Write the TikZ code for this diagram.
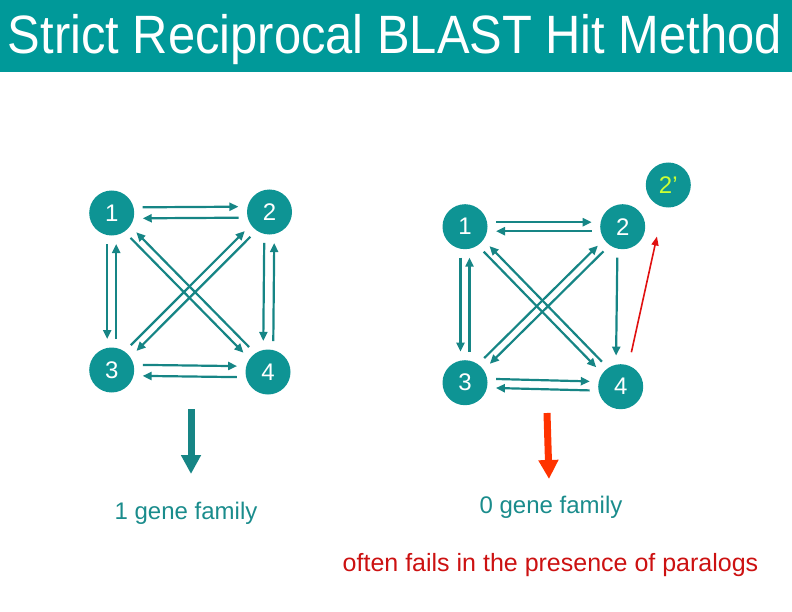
\documentclass[tikz,border=0pt]{standalone}
\usepackage{fontspec}
\setmainfont{Liberation Sans}
\usetikzlibrary{calc,arrows.meta}
\definecolor{tealbar}{HTML}{009999}
\definecolor{circteal}{HTML}{0E9494}
\definecolor{arrteal}{HTML}{168585}
\definecolor{txtteal}{HTML}{1A8C8C}
\definecolor{limetxt}{HTML}{CCFF33}
\definecolor{darkredtxt}{HTML}{CC1111}
\definecolor{orangered}{HTML}{FF3300}
\definecolor{redline}{HTML}{E01010}
\newcommand\conn[3]{\draw[arr] ($(#1)!#3!90:(#2)$) -- ($(#2)!#3!-90:(#1)$);}
\tikzset{
  gnode/.style={circle, fill=circteal, text=white, minimum size=45bp, inner sep=0pt,
    font=\fontsize{24bp}{28bp}\selectfont},
  arr/.style={draw=arrteal, line width=2.2bp, shorten <=31bp, shorten >=31bp,
    -{Triangle[length=9bp,width=8bp]}},
  bigarr/.style={line width=7bp, -{Triangle[length=19bp,width=19bp]}},
  lbl/.style={anchor=base, font=\fontsize{24bp}{28bp}\selectfont}
}
\begin{document}
\begin{tikzpicture}[x=1bp,y=-1bp]
\useasboundingbox (0,0) rectangle (792,612);
\fill[tealbar] (0,0) rectangle (792,72);
\node[anchor=base, text=white, inner sep=0pt] (title) at (395,54)
  {\scalebox{0.905}[1]{\fontsize{54bp}{60bp}\selectfont Strict Reciprocal BLAST Hit Method}};

% left graph
\node[gnode] (l1) at (111.7,213) {1};
\node[gnode] (l2) at (269.5,212) {2};
\node[gnode] (l3) at (111.7,370) {3};
\node[gnode] (l4) at (268,372) {4};
\conn{l1}{l2}{5.5bp}
\conn{l2}{l1}{5.5bp}
\conn{l3}{l4}{5.5bp}
\conn{l4}{l3}{5.5bp}
\conn{l1}{l3}{-4.5bp}
\conn{l3}{l1}{-4.5bp}
\conn{l2}{l4}{-5bp}
\conn{l4}{l2}{-5bp}
\conn{l1}{l4}{-4bp}
\conn{l4}{l1}{-4bp}
\conn{l2}{l3}{4bp}
\conn{l3}{l2}{4bp}

% right graph
\node[gnode] (r1) at (465,226.7) {1};
\node[gnode] (r2) at (622.7,226.7) {2};
\node[gnode] (r3) at (465,382.7) {3};
\node[gnode] (r4) at (620.7,386.7) {4};
\node[gnode, text=limetxt] (r2p) at (668.3,185) {2’};
\conn{r1}{r2}{4.5bp}
\conn{r2}{r1}{4.5bp}
\conn{r3}{r4}{4.5bp}
\conn{r4}{r3}{4.5bp}
\conn{r1}{r3}{-4.5bp}
\conn{r3}{r1}{-4.5bp}
\conn{r2}{r4}{-5bp}
\conn{r1}{r4}{-4bp}
\conn{r4}{r1}{-4bp}
\conn{r2}{r3}{4bp}
\conn{r3}{r2}{4bp}
\draw[draw=redline, line width=1.6bp, shorten <=36bp, shorten >=30bp,
  -{Triangle[length=9bp,width=7bp]}] ($(r4)!3bp!-90:(r2p)$) -- (r2p);

% block arrows
\coordinate (la0) at (191,409);
\coordinate (la1) at (191,474);
\coordinate (ra0) at (547,413);
\coordinate (ra1) at (549,479);
\draw[bigarr, draw=arrteal, fill=arrteal] (la0) -- (la1);
\draw[bigarr, draw=orangered, fill=orangered] (ra0) -- (ra1);

% texts
\node[lbl, text=txtteal] (t1) at (186,519) {1 gene family};
\node[lbl, text=txtteal] (t0) at (551,513) {0 gene family};
\node[lbl, text=darkredtxt, font=\fontsize{25bp}{30bp}\selectfont] (t2) at (550.5,571) {often fails in the presence of paralogs};
\end{tikzpicture}
\end{document}
